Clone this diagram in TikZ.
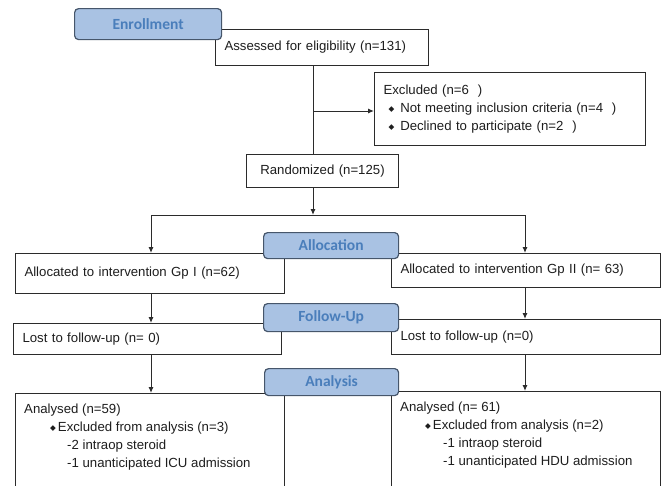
\documentclass[tikz,border=0pt]{standalone}
\usepackage{fontspec}
\setmainfont{Liberation Sans}
\newfontfamily\stagefont{Carlito}
\newfontfamily\markfont{DejaVu Sans}
\usetikzlibrary{arrows.meta}
\definecolor{stagefill}{HTML}{A9C2E3}
\definecolor{stageline}{HTML}{46566B}
\definecolor{stagetext}{HTML}{4A7EBB}
\definecolor{boxline}{HTML}{2B2B2B}
\definecolor{boxtext}{HTML}{1E1E1E}
\newcommand{\bul}{\raisebox{0.8pt}{\markfont\fontsize{7.5}{7.5}\selectfont ◆}}
\tikzset{
  stage/.style={
    draw=stageline,
    fill=stagefill,
    line width=1.2pt,
    rounded corners=4pt,
    anchor=north west,
    inner sep=0pt,
    text=stagetext,
    font=\stagefont\bfseries\fontsize{15.5}{18}\selectfont
  },
  entry/.style={
    draw=boxline,
    fill=white,
    line width=1pt,
    anchor=north west,
    inner xsep=9pt,
    inner ysep=0pt,
    align=left,
    text=boxtext,
    font=\fontsize{13.2}{18}\selectfont
  },
  words/.style={
    anchor=north west,
    inner sep=0pt,
    align=left,
    text=boxtext,
    font=\fontsize{13.2}{17.8}\selectfont
  },
  link/.style={draw=boxline, line width=1pt},
  flow/.style={link, -{Latex[length=6pt,width=5pt]}}
}

\begin{document}
\begin{tikzpicture}[x=1pt,y=-1pt]
    \useasboundingbox (0,0) rectangle (661,485);
    \clip (0,0) rectangle (661,485);
    % boxes
    \node[entry, text width=195pt, minimum height=36pt] (assess) at (215,29) {Assessed for eligibility (n=131)};
    \node[entry, text width=253pt, minimum height=73pt] (excl) at (374,72)
        {Excluded (n=6~~)\\
         \hspace*{5pt}\bul\hspace{6pt}Not meeting inclusion criteria (n=4~~)\\
         \hspace*{5pt}\bul\hspace{6pt}Declined to participate (n=2~~)};
    \node[entry, align=center, text width=134pt, minimum height=33pt] (rand) at (246,154) {Randomized (n=125)};
    \node[entry, text width=251pt, minimum height=40pt] (alloc1) at (15,253) {Allocated to intervention Gp I (n=62)};
    \node[entry, text width=251pt, minimum height=34pt] (alloc2) at (391,253) {Allocated to intervention Gp II (n= 63)};
    \node[entry, text width=250pt, minimum height=31pt] (lost1) at (13,323) {Lost to follow-up (n= 0)};
    \node[entry, text width=251pt, minimum height=35pt] (lost2) at (391,319) {Lost to follow-up (n=0)};
    \node[entry, minimum width=269pt, minimum height=120pt] (anal1) at (15,393) {};
    \node[entry, minimum width=269pt, minimum height=120pt] (anal2) at (391,391) {};
    \node[words] (anal1text) at (24,404)
        {Analysed (n=59)\\
         \hspace*{26pt}\bul\hspace{2pt}Excluded from analysis (n=3)\\
         \hspace*{43pt}-2 intraop steroid\\
         \hspace*{43pt}-1 unanticipated ICU admission};
    \node[words] (anal2text) at (400,402)
        {Analysed (n= 61)\\
         \hspace*{25pt}\bul\hspace{2pt}Excluded from analysis (n=2)\\
         \hspace*{43pt}-1 intraop steroid\\
         \hspace*{43pt}-1 unanticipated HDU admission};
    % connectors
    \coordinate (trunk) at (313,111);
    \coordinate (split) at (313,215);
    \coordinate (lcol) at (151,215);
    \coordinate (rcol) at (525,215);
    \draw[link] (assess.south -| split) -- (rand.north -| split);
    \draw[flow] (trunk) -- (trunk -| excl.west);
    \draw[flow] (rand.south -| split) -- (split);
    \draw[link] (lcol) -- (rcol);
    \draw[flow] (lcol) -- (alloc1.north -| lcol);
    \draw[flow] (rcol) -- (alloc2.north -| rcol);
    \draw[flow] (alloc1.south -| lcol) -- (lost1.north -| lcol);
    \draw[flow] (alloc2.south -| rcol) -- (lost2.north -| rcol);
    \draw[flow] (lost1.south -| lcol) -- (anal1.north -| lcol);
    \draw[flow] (lost2.south -| rcol) -- (anal2.north -| rcol);
    % stage headers
    \node[stage, minimum width=147pt, minimum height=31pt] (enrol) at (74,8) {Enrollment};
    \node[stage, minimum width=135pt, minimum height=26pt] (allocation) at (263,232) {Allocation};
    \node[stage, minimum width=135pt, minimum height=28pt] (followup) at (263,303) {Follow-Up};
    \node[stage, minimum width=134pt, minimum height=27pt] (analysis) at (264,368) {Analysis};
\end{tikzpicture}
\end{document}
